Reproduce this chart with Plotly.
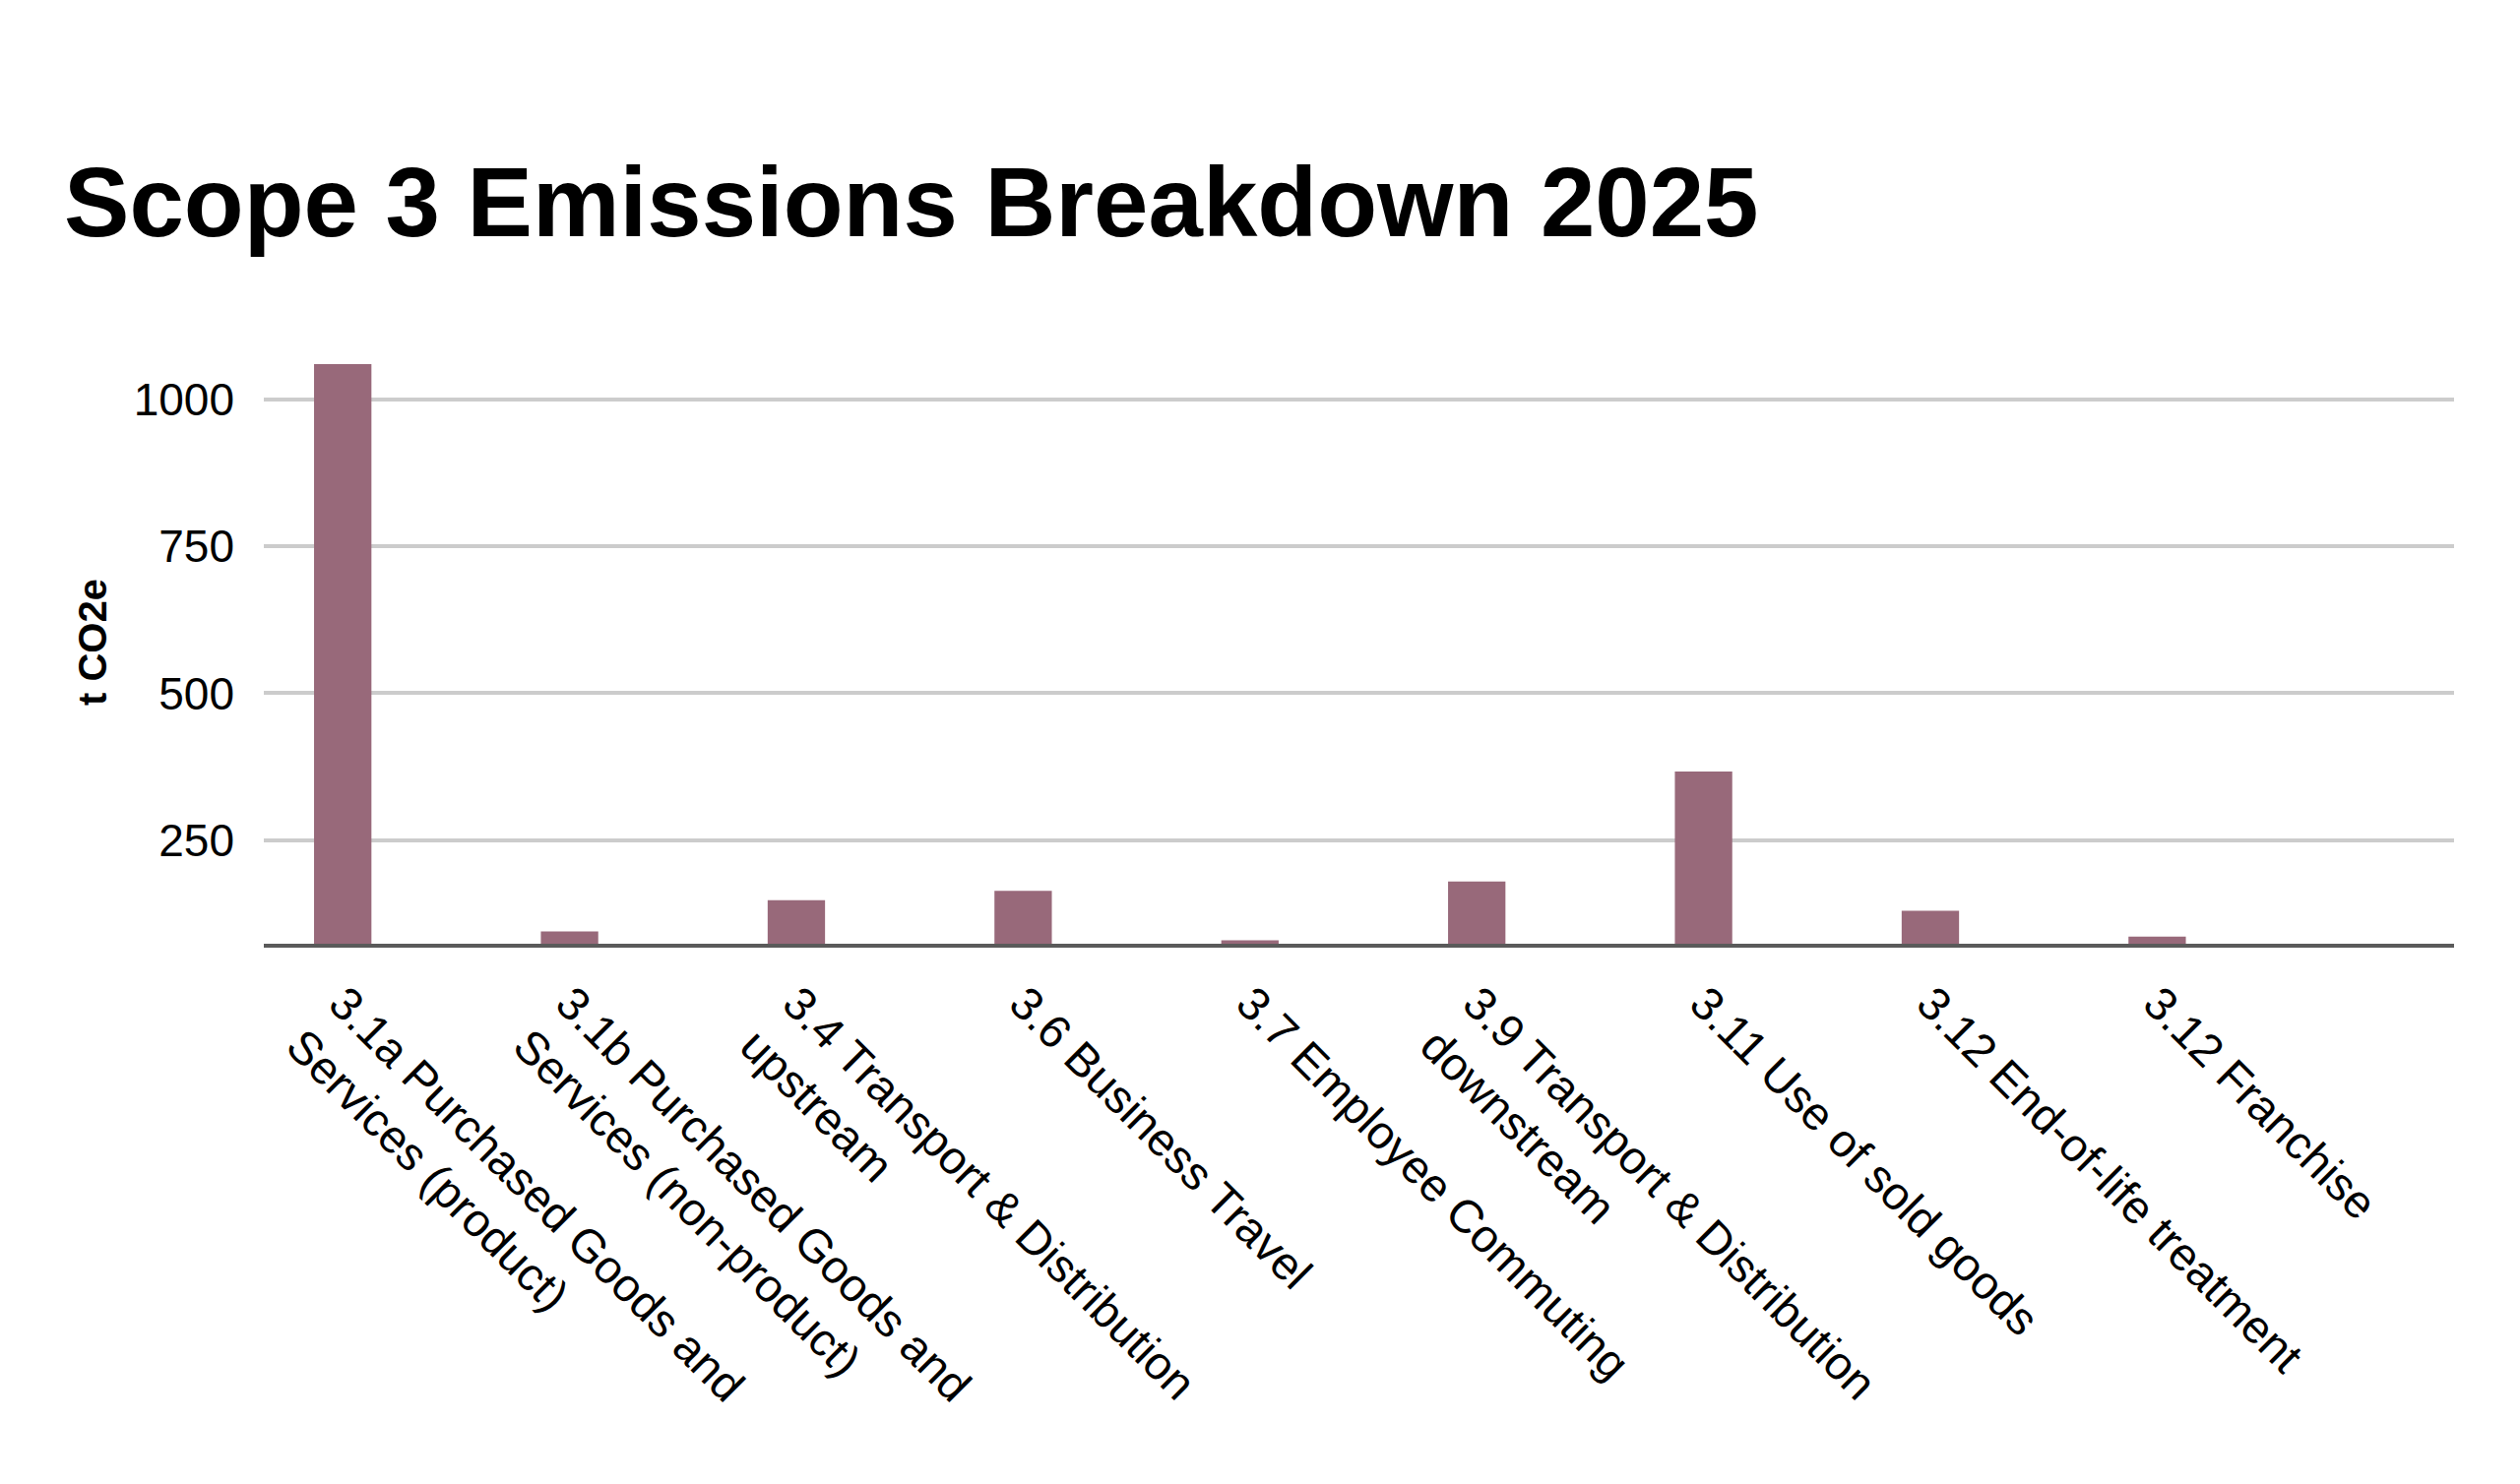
import plotly.graph_objects as go

categories = [
    "3.1a Purchased Goods and Services (product)",
    "3.1b Purchased Goods and Services (non-product)",
    "3.4 Transport & Distribution upstream",
    "3.6 Business Travel",
    "3.7 Employee Commuting",
    "3.9 Transport & Distribution downstream",
    "3.11 Use of sold goods",
    "3.12 End-of-life treatment",
    "3.12 Franchise",
]
tick_labels = [
    "3.1a Purchased Goods and<br>Services (product)",
    "3.1b Purchased Goods and<br>Services (non-product)",
    "3.4 Transport & Distribution<br>upstream",
    "3.6 Business Travel",
    "3.7 Employee Commuting",
    "3.9 Transport & Distribution<br>downstream",
    "3.11 Use of sold goods",
    "3.12 End-of-life treatment",
    "3.12 Franchise",
]
values = [1060, 95, 148, 164, 80, 180, 367, 130, 86]
y_ticks = [250, 500, 750, 1000]

FONT = "Liberation Sans, Arial, sans-serif"
W, H = 2560, 1508

fig = go.Figure(
    go.Bar(
        x=categories,
        y=values,
        width=0.253,
        marker=dict(color="#98697a", line=dict(width=0)),
        showlegend=False,
    )
)

fig.update_layout(
    width=W,
    height=H,
    paper_bgcolor="white",
    plot_bgcolor="white",
    margin=dict(l=260, r=75, t=338, b=557, autoexpand=False),
    font=dict(family=FONT, size=45, color="black"),
    title=dict(
        text="<b>Scope 3 Emissions Breakdown 2025</b>",
        font=dict(family=FONT, size=99.6, color="black"),
        xref="container",
        yref="container",
        x=57 / W,
        xanchor="left",
        y=1 - 197 / H,
        yanchor="middle",
    ),
)

fig.update_xaxes(
    type="category",
    range=[-0.348, 9.309],
    tickmode="array",
    tickvals=categories,
    ticktext=tick_labels,
    tickangle=45,
    showgrid=False,
    showline=True,
    linecolor="#5a5a5a",
    linewidth=4,
    ticks="",
    ticklabelstandoff=10,
    tickfont=dict(family=FONT, size=47, color="black"),
)

fig.update_yaxes(
    range=[74, 1100],
    tickmode="array",
    tickvals=y_ticks,
    ticktext=[str(v) for v in y_ticks],
    showgrid=True,
    gridcolor="#cccccc",
    gridwidth=4,
    zeroline=False,
    showline=False,
    ticks="",
    ticklabelstandoff=29,
    tickfont=dict(family=FONT, size=46, color="black"),
    title=dict(
        text="<b>t CO2e</b>",
        font=dict(family=FONT, size=40, color="black"),
        standoff=14,
    ),
)

fig.write_html("out.html")
